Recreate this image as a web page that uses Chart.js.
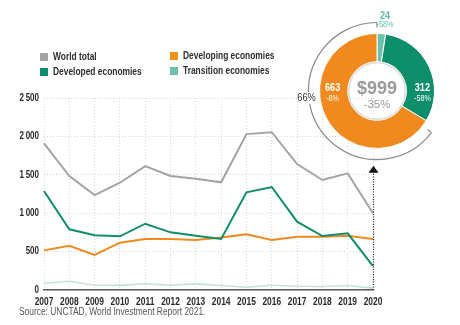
<!DOCTYPE html>
<html><head><meta charset="utf-8">
<script src="https://cdn.jsdelivr.net/npm/chart.js@4.4.1/dist/chart.umd.min.js"></script>
<style>
html,body{margin:0;padding:0;background:#fff;}
#wrap{position:relative;width:460px;height:325px;overflow:hidden;}
#line{position:absolute;left:0;top:0;}
#donut{position:absolute;left:290px;top:0;}
</style></head>
<body><div id="wrap"><canvas id="line" width="460" height="325"></canvas><canvas id="donut" width="170" height="184"></canvas></div>
<script>
const years = ['2007','2008','2009','2010','2011','2012','2013','2014','2015','2016','2017','2018','2019','2020'];
const worldTotal = [1910,1484,1235,1397,1614,1484,1450,1402,2030,2055,1640,1432,1519,999];
const developed  = [1289,790,712,699,863,751,707,664,1272,1341,890,703,738,312];
const developing = [516,577,456,616,664,664,651,685,725,651,694,694,707,663];
const transition = [87,113,61,60,82,62,80,58,35,62,48,45,58,24];
const yTicks = [0,500,1000,1500,2000,2500];
const seriesNames = ['World total','Developed economies','Developing economies','Transition economies'];
const donutNames = ['Transition economies','Developed economies','Developing economies'];
const donutValues = [24,312,663];
const donutChanges = ['-58%','-58%','-8%'];
const totalValue = '$999';
const totalChange = '-35%';
const developingShare = '66%';
const sourceText = 'Source: UNCTAD, World Investment Report 2021.';

const SANS = '"Liberation Sans",Arial,sans-serif';
const C = {world:'#a4a4a4', dev:'#0f8e6c', dvg:'#f08a1e', trans:'#6cc3ad', transLine:'#c3e3d8'};

function fmt(v){ return String(v).replace(/\B(?=(\d{3})+(?!\d))/g,'\u2009'); }

// condensed text rendering (horizontal squeeze around the anchor point)
function narrowText(ctx, k){
  const orig = ctx.fillText;
  ctx._narrow = true;
  ctx.fillText = function(text, x, y, maxW){
    if (!this._narrow) return maxW === undefined ? orig.call(this, text, x, y) : orig.call(this, text, x, y, maxW);
    this.save();
    this.translate(x, y);
    this.scale(k, 1);
    if (maxW === undefined) orig.call(this, text, 0, 0); else orig.call(this, text, 0, 0, maxW / k);
    this.restore();
  };
}
const lineCanvas = document.getElementById('line');
narrowText(lineCanvas.getContext('2d'), 0.8);
const donutCanvas = document.getElementById('donut');
narrowText(donutCanvas.getContext('2d'), 0.8);

const linePlugin = {
  id:'extras',
  afterDraw(chart){
    const ctx = chart.ctx, xs = chart.scales.x, ys = chart.scales.y;
    ctx.save();
    const leg = [
      {t:seriesNames[0], c:'#a4a4a4', x:40, y:57},
      {t:seriesNames[2], c:'#f0901e', x:170, y:56},
      {t:seriesNames[1], c:'#0f8e6c', x:40, y:72},
      {t:seriesNames[3], c:'#6cc3ad', x:170, y:71}
    ];
    ctx.font = 'bold 10.5px ' + SANS;
    ctx.textBaseline = 'middle'; ctx.textAlign = 'left';
    leg.forEach(l=>{
      ctx.fillStyle = l.c; ctx.fillRect(l.x, l.y-4, 8, 8);
      ctx.fillStyle = '#2e2e2e'; ctx.fillText(l.t, l.x+13, l.y+0.5);
    });
    const xp = Math.round(xs.getPixelForValue(years.length-1)) + 0.5;
    const yb = ys.getPixelForValue(0);
    const yt = ys.getPixelForValue(1540);
    ctx.strokeStyle = '#222'; ctx.lineWidth = 1.2; ctx.setLineDash([1,1.5]);
    ctx.beginPath(); ctx.moveTo(xp, yb); ctx.lineTo(xp, yt); ctx.stroke();
    ctx.setLineDash([]);
    ctx.fillStyle = '#111';
    ctx.beginPath(); ctx.moveTo(xp, yt-6); ctx.lineTo(xp-5, yt+1); ctx.lineTo(xp+5, yt+1); ctx.closePath(); ctx.fill();
    ctx.font = '10.5px ' + SANS;
    ctx.fillStyle = '#555'; ctx.textBaseline = 'middle'; ctx.textAlign = 'left';
    ctx.fillText(sourceText, 19, 312);
    ctx.restore();
  }
};

new Chart(lineCanvas, {
  type:'line',
  data:{
    labels: years,
    datasets:[
      {label:seriesNames[0], data:worldTotal, borderColor:C.world, borderWidth:2},
      {label:seriesNames[1], data:developed, borderColor:C.dev, borderWidth:2},
      {label:seriesNames[2], data:developing, borderColor:C.dvg, borderWidth:2},
      {label:seriesNames[3], data:transition, borderColor:C.transLine, borderWidth:1.6}
    ].map(d=>Object.assign(d,{pointRadius:0, tension:0, fill:false}))
  },
  options:{
    responsive:false, animation:false, devicePixelRatio:1,
    layout:{padding:{top:98, right:87, left:0, bottom:0}},
    plugins:{legend:{display:false}, tooltip:{enabled:false}},
    scales:{
      x:{
        grid:{color:'#d6d6d6', drawTicks:false, lineWidth:1},
        border:{display:true, color:'#5a5a5a', width:1.6, dash:[1,2]},
        ticks:{padding:6, color:'#2a2a2a', font:{family:SANS, size:10.5, weight:'bold'}, maxRotation:0, autoSkip:false},
        afterFit(s){ s.height = 35; }
      },
      y:{
        min:0, max:2500,
        afterBuildTicks(s){ s.ticks = yTicks.map(v=>({value:v})); },
        grid:{color:'#d6d6d6', drawTicks:false, lineWidth:1},
        border:{display:false, dash:[1,2]},
        ticks:{padding:5, color:'#2a2a2a', font:{family:SANS, size:10, weight:'bold'}, callback:(v)=>fmt(v)},
        afterFit(s){ s.width = 44; }
      }
    }
  },
  plugins:[linePlugin]
});

const donutPlugin = {
  id:'donutExtras',
  afterDraw(chart){
    const ctx = chart.ctx;
    const arcs = chart.getDatasetMeta(0).data;
    const a0 = arcs[0];
    const cx = a0.x, cy = a0.y, ro = a0.outerRadius, ri = a0.innerRadius;
    ctx.save();
    ctx.strokeStyle = '#dcdcdc'; ctx.lineWidth = 1.5;
    ctx.beginPath(); ctx.arc(cx, cy, ri-1, 0, Math.PI*2); ctx.stroke();
    ctx.textAlign = 'center'; ctx.textBaseline = 'middle';
    ctx._narrow = false;
    ctx.fillStyle = '#9a9a9a';
    ctx.font = 'bold 18px ' + SANS;
    ctx.fillText(totalValue, cx, cy-2);
    ctx.font = '11.5px ' + SANS;
    ctx.fillText(totalChange, cx, cy+14);
    ctx._narrow = true;
    const rm = (ro+ri)/2 + 2;
    ctx.fillStyle = '#fff';
    ctx.font = 'bold 11.5px ' + SANS;
    ctx.fillText(String(donutValues[1]), cx+rm, cy-3);
    ctx.fillText(String(donutValues[2]), cx-rm+1, cy-3);
    ctx.font = '9px ' + SANS;
    ctx.fillText(donutChanges[1], cx+rm, cy+8);
    ctx.fillText(donutChanges[2], cx-rm+1, cy+8);
    ctx.fillStyle = '#5fbea5';
    ctx.font = 'bold 11.5px ' + SANS;
    ctx.fillText(String(donutValues[0]), cx+8, cy-75);
    ctx.font = '9px ' + SANS;
    ctx.fillText(donutChanges[0], cx+8, cy-66);
    const dv = arcs[2];
    const R = ro + 11;
    ctx.strokeStyle = '#8a8a8a'; ctx.lineWidth = 1.2;
    ctx.beginPath();
    ctx.arc(cx, cy, R, dv.startAngle+0.11, dv.endAngle, false);
    ctx.stroke();
    [dv.startAngle+0.11, dv.endAngle].forEach(a=>{
      ctx.beginPath();
      ctx.moveTo(cx+R*Math.cos(a), cy+R*Math.sin(a));
      ctx.lineTo(cx+(R-5)*Math.cos(a), cy+(R-5)*Math.sin(a));
      ctx.stroke();
    });
    // share label interrupting the arc
    const lx = cx - R - 2, ly = cy + 7;
    ctx.fillStyle = '#fff';
    ctx.fillRect(lx - 9, ly - 6, 18, 12);
    ctx.fillStyle = '#333';
    ctx.font = '11.5px ' + SANS;
    ctx.textAlign = 'center';
    ctx.fillText(developingShare, lx, ly);
    ctx.restore();
  }
};

new Chart(donutCanvas, {
  type:'doughnut',
  data:{labels:donutNames, datasets:[{data:donutValues, backgroundColor:[C.trans, C.dev, C.dvg], borderColor:'#ffffff', borderWidth:1}]},
  options:{
    responsive:false, animation:false, devicePixelRatio:1,
    cutout:'51%',
    layout:{padding:{left:29, right:25, top:33, bottom:35}},
    plugins:{legend:{display:false}, tooltip:{enabled:false}}
  },
  plugins:[donutPlugin]
});
</script></body></html>
